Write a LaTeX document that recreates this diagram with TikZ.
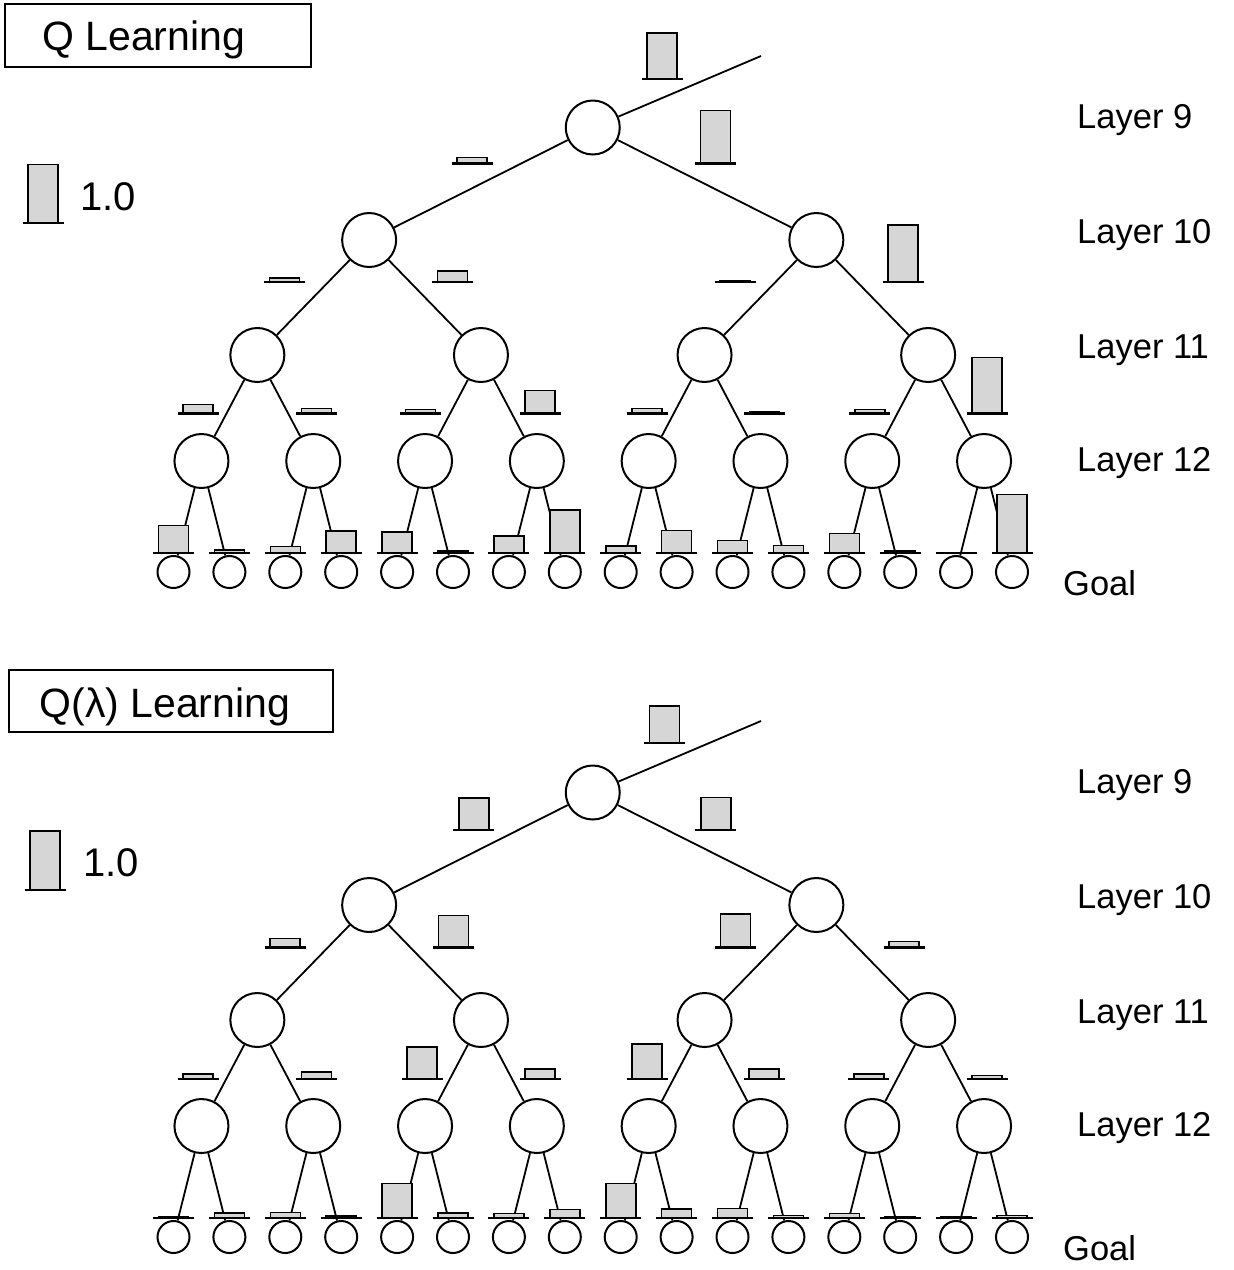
\documentclass[tikz,border=0pt]{standalone}
\usepackage{fontspec}
\setmainfont{Liberation Sans}

% value bar: centre x, baseline y, height (all in px units)
\newcommand\qbar[3]{%
  \ifdim #3pt>0pt\relax
    \path[barbox] ({#1-15},{#2-#3}) rectangle ({#1+15},#2);%
  \fi
  \draw[barbase] ({#1-20.5},#2) -- ({#1+20.5},#2);%
}

% binary tree: #1 name prefix, #2 vertical offset
\newcommand\qtree[2]{%
  \coordinate (#1in) at (761,{56+#2});
  \node[treenode] (#1r) at (592.75,{127.5+#2}) {};
  \foreach \m in {0,1}
    {\node[treenode] (#1a\m) at ({369.15+447.2*\m},{240+#2}) {};}
  \foreach \k in {0,...,3}
    {\node[treenode] (#1b\k) at ({257.35+223.6*\k},{355+#2}) {};}
  \foreach \j in {0,...,7}
    {\node[treenode] (#1c\j) at ({201.45+111.8*\j},{461+#2}) {};}
  \foreach \i in {0,...,15}
    {\node[goalnode] (#1g\i) at ({173.5+55.9*\i},{572+#2}) {};}
  \draw[edge] (#1in) -- (#1r);
  \foreach \m in {0,1} {\draw[edge] (#1r) -- (#1a\m);}
  \foreach \k in {0,...,3} {
    \pgfmathtruncatemacro\p{int(\k/2)}
    \draw[edge] (#1a\p) -- (#1b\k);
  }
  \foreach \j in {0,...,7} {
    \pgfmathtruncatemacro\p{int(\j/2)}
    \draw[edge] (#1b\p) -- (#1c\j);
  }
  \foreach \i in {0,...,15} {
    \pgfmathtruncatemacro\p{int(\i/2)}
    \draw[edge] (#1c\p) -- (#1g\i);
  }
  \node[layerlabel] (#1l9)  at (1077,{128+#2}) {Layer 9};
  \node[layerlabel] (#1l10) at (1077,{243+#2}) {Layer 10};
  \node[layerlabel] (#1l11) at (1077,{358+#2}) {Layer 11};
  \node[layerlabel] (#1l12) at (1077,{471.5+#2}) {Layer 12};
  \node[layerlabel] (#1goal) at (1063,{595+#2}) {Goal};
}

\begin{document}
\begin{tikzpicture}[x=1pt,y=-1pt,
  treenode/.style={circle,draw,line width=2pt,fill=white,minimum size=54pt,inner sep=0pt},
  goalnode/.style={circle,draw,line width=2pt,fill=white,minimum size=32pt,inner sep=0pt},
  edge/.style={line width=1.8pt},
  barbox/.style={draw,line width=1.6pt,fill=black!16},
  barbase/.style={line width=2.2pt},
  layerlabel/.style={anchor=base west,inner sep=0pt,font=\fontsize{34.5}{41}\selectfont},
  titlebox/.style={line width=2pt},
  titletext/.style={anchor=base west,inner sep=0pt,font=\fontsize{41}{49}\selectfont},
  scaletext/.style={anchor=base west,inner sep=0pt,font=\fontsize{40}{48}\selectfont},
]
\useasboundingbox (0,0) rectangle (1234,1270);

% ---------------- Q learning ----------------
\draw[titlebox] (5,4.3) rectangle (311,66.7);
\node[titletext] (titleq) at (42,50) {Q Learning};
\qbar{43}{223.3}{59}
\node[scaletext] (scaleq) at (80,210) {1.0};

\qtree{t}{0}

\qbar{662}{79}{46}
\foreach \x/\h in {472/6, 715.5/53} {\qbar{\x}{163.5}{\h}}
\foreach \x/\h in {284.5/4, 452.5/11, 735.2/1.5, 903/57} {\qbar{\x}{282}{\h}}
\foreach \x/\h in {198/9, 316.6/5, 420.5/4, 540/23, 647.2/5, 764.5/2, 869.7/4, 987/56}
  {\qbar{\x}{413.5}{\h}}
\foreach \h [count=\i from 0] in {27.6, 3, 6.7, 22, 21, 2, 17.3, 43, 7, 22.7, 12.7, 7.6, 19.4, 2, 0, 58.7}
  {\qbar{173.5+55.9*\i}{553}{\h}}

% ---------------- Q(lambda) learning ----------------
\draw[titlebox] (9.3,670) rectangle (332.7,731.7);
\node[titletext] (titleql) at (39.3,717.3) {Q(λ) Learning};
\qbar{45}{890}{59}
\node[scaletext] (scaleql) at (83,876) {1.0};

\qtree{u}{665}

\qbar{664.6}{743.3}{37.6}
\foreach \x/\h in {473.7/32.3, 715.9/32.4} {\qbar{\x}{830}{\h}}
\foreach \x/\h in {285/9, 453.4/32, 735.4/33.7, 904/6} {\qbar{\x}{947.5}{\h}}
\foreach \x/\h in {198/5, 316.5/7, 422/32, 540/10, 647/35, 764/10, 868.7/5, 987/3.5}
  {\qbar{\x}{1079}{\h}}
\foreach \h [count=\i from 0] in {2, 5.5, 6, 2.5, 34.7, 5.5, 5, 9, 35, 9.3, 9.7, 2.7, 4.7, 1.5, 1.5, 3}
  {\qbar{173.5+55.9*\i}{1218.3}{\h}}
\end{tikzpicture}
\end{document}
